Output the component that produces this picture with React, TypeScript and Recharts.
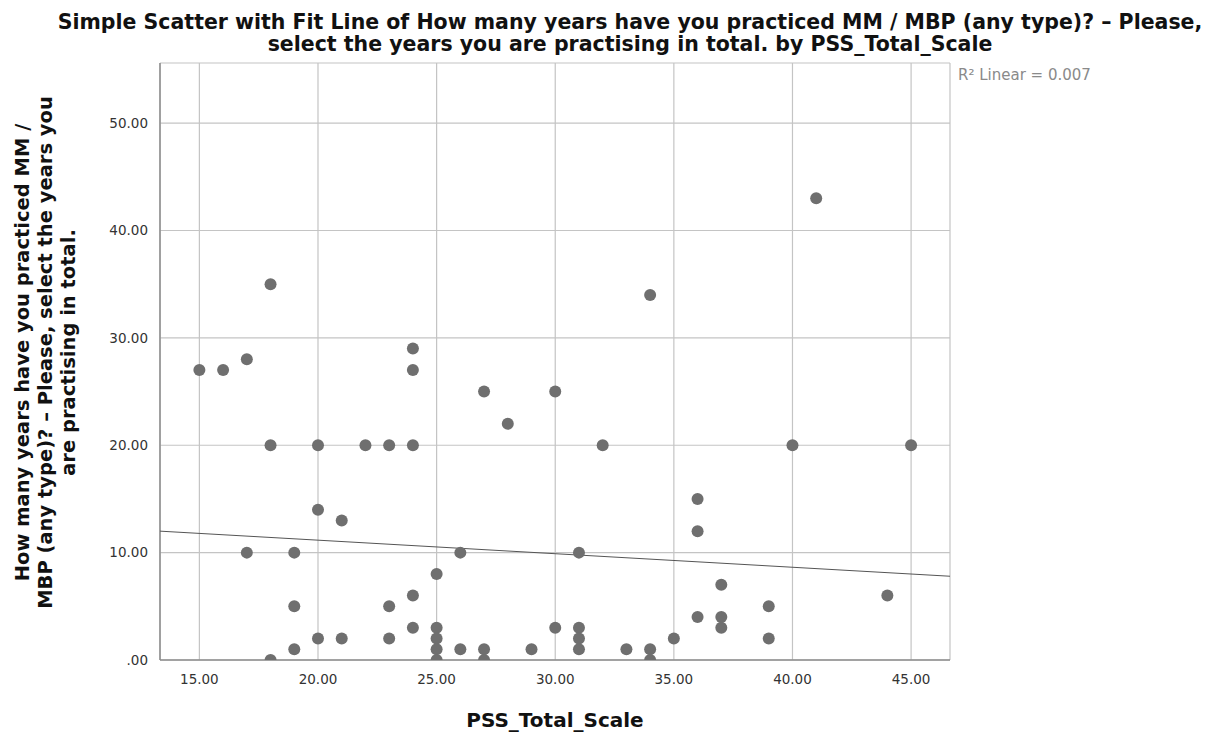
import { ScatterChart, Scatter, XAxis, YAxis, CartesianGrid, ZAxis } from "recharts";

const pssScores = [
  15, 16, 17, 17, 18, 18, 18, 19, 19, 19, 20, 20, 20, 21, 21, 22, 23, 23, 23,
  24, 24, 24, 24, 24, 25, 25, 25, 25, 25, 26, 26, 27, 27, 27, 28, 29, 30, 30,
  31, 31, 31, 31, 32, 33, 34, 34, 34, 35, 36, 36, 36, 37, 37, 37, 39, 39, 40,
  41, 44, 45,
];
const yearsPracticed = [
  27, 27, 28, 10, 35, 20, 0, 10, 5, 1, 20, 14, 2, 13, 2, 20, 20, 5, 2,
  29, 27, 20, 6, 3, 8, 3, 2, 1, 0, 10, 1, 25, 1, 0, 22, 1, 25, 3,
  10, 3, 2, 1, 20, 1, 34, 1, 0, 2, 15, 12, 4, 7, 4, 3, 5, 2, 20,
  43, 6, 20,
];

// fit line endpoints read at the plot edges
const fitX = [13.34, 46.64];
const fitY = [12.0, 7.8];

const xTicks = [15, 20, 25, 30, 35, 40, 45];
const yTicks = [0, 10, 20, 30, 40, 50];

const points = pssScores.map((x, i) => ({ x, y: yearsPracticed[i] }));
const fitLine = fitX.map((x, i) => ({ x, y: fitY[i] }));

const FONT = "'DejaVu Sans', 'Open Sans', sans-serif";
const W = 1197;
const H = 729;
const M = { top: 55, right: 255, left: 0, bottom: 0 };
const X_AXIS_H = 77;
const PLOT_BOTTOM = H - M.bottom - X_AXIS_H;

// dots sitting on the x axis are cut by the plot frame, like in SPSS
const Dot = (props: any) => {
  const { cx, cy, index } = props;
  if (cx == null || cy == null) return null;
  const id = `dotclip-${index}`;
  return (
    <g>
      <clipPath id={id}>
        <rect x={cx - 8} y={cy - 8} width={16} height={Math.max(0, PLOT_BOTTOM - (cy - 8))} />
      </clipPath>
      <circle cx={cx} cy={cy} r={6} fill="#6f6f6f" clipPath={`url(#${id})`} />
    </g>
  );
};

const fmt = (v: number) => (v === 0 ? ".00" : v.toFixed(2));

export default function App() {
  return (
    <div style={{ position: "relative", width: W, height: H, fontFamily: FONT }}>
      <div
        style={{
          position: "absolute",
          left: 0,
          top: 3,
          width: 1244,
          textAlign: "center",
          fontWeight: "bold",
          fontSize: 20.5,
          lineHeight: "22px",
          color: "#111",
          whiteSpace: "nowrap",
        }}
      >
        Simple Scatter with Fit Line of How many years have you practiced MM / MBP (any type)? – Please,
        <br />
        select the years you are practising in total. by PSS_Total_Scale
      </div>
      <div
        style={{
          position: "absolute",
          left: 37 - 300,
          top: 346 - 36,
          width: 600,
          textAlign: "center",
          transform: "rotate(-90deg)",
          fontWeight: "bold",
          fontSize: 19.5,
          lineHeight: "23px",
          color: "#111",
          whiteSpace: "nowrap",
        }}
      >
        How many years have you practiced MM /
        <br />
        MBP (any type)? – Please, select the years you
        <br />
        are practising in total.
      </div>
      <div
        style={{
          position: "absolute",
          left: 547 - 200,
          top: 700,
          width: 400,
          textAlign: "center",
          fontWeight: "bold",
          fontSize: 20,
          color: "#111",
        }}
      >
        PSS_Total_Scale
      </div>
      <div
        style={{
          position: "absolute",
          left: 950,
          top: 58,
          fontSize: 15,
          color: "#8a8a8a",
          whiteSpace: "nowrap",
        }}
      >
        R² Linear = 0.007
      </div>
      <ScatterChart width={W} height={H} margin={M}>
        <CartesianGrid stroke="#c4c4c4" strokeWidth={1.2} />
        <XAxis
          type="number"
          dataKey="x"
          domain={[13.34, 46.64]}
          ticks={xTicks}
          tickFormatter={fmt}
          height={X_AXIS_H}
          allowDataOverflow
          tickLine={false}
          axisLine={{ stroke: "#8c8c8c", strokeWidth: 1.5 }}
          tick={{ fontSize: 13.5, fill: "#333", fontFamily: FONT }}
          tickMargin={8}
        />
        <YAxis
          type="number"
          dataKey="y"
          domain={[0, 55.6]}
          ticks={yTicks}
          tickFormatter={fmt}
          width={152}
          allowDataOverflow
          tickLine={false}
          axisLine={{ stroke: "#8c8c8c", strokeWidth: 1.5 }}
          tick={{ fontSize: 13.5, fill: "#333", fontFamily: FONT }}
          tickMargin={6}
        />
        <ZAxis range={[100, 100]} />
        <Scatter
          data={fitLine}
          line={{ stroke: "#555", strokeWidth: 1 }}
          shape={() => null}
          isAnimationActive={false}
        />
        <Scatter data={points} shape={Dot} isAnimationActive={false} />
      </ScatterChart>
    </div>
  );
}
